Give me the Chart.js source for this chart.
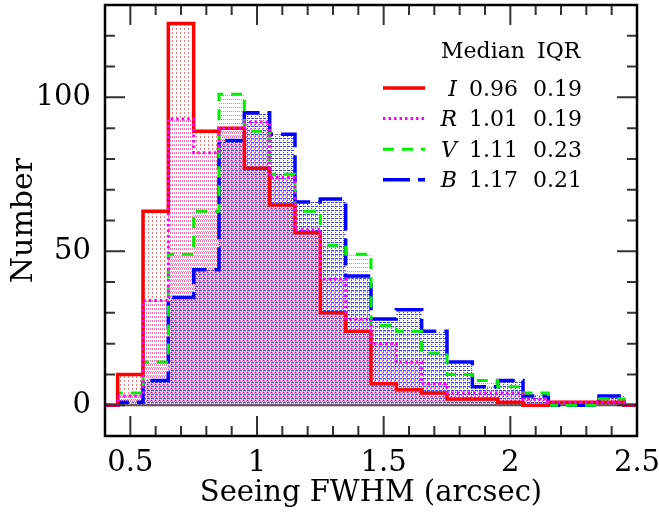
<!DOCTYPE html>
<html>
<head>
<meta charset="utf-8">
<script src="https://cdn.jsdelivr.net/npm/chart.js@4.4.1/dist/chart.umd.min.js"></script>
<style>
  html, body { margin: 0; padding: 0; background: #fff; }
  canvas { display: block; }
</style>
</head>
<body>
<canvas id="seeingChart" width="659" height="514"></canvas>
<script>
// Seeing FWHM histograms per band (bins 0.1 arcsec wide)
const binEdges = [0.45, 0.55, 0.65, 0.75, 0.85, 0.95, 1.05, 1.15, 1.25, 1.35, 1.45,
                  1.55, 1.65, 1.75, 1.85, 1.95, 2.05, 2.15, 2.25, 2.35, 2.45];
const countsI = [10, 63, 124, 89, 90, 77, 65, 56, 30, 24, 7, 5, 4, 2, 2, 1, 0, 1, 1, 1];
const countsR = [3, 34, 93, 82, 90, 92, 74, 57, 41, 28, 20, 14, 7, 4, 4, 4, 2, 1, 1, 1];
const countsV = [4, 14, 49, 63, 101, 89, 75, 63, 52, 49, 26, 24, 17, 10, 8, 6, 4, 0, 0, 2];
const countsB = [1, 8, 35, 44, 86, 95, 88, 66, 67, 42, 28, 31, 24, 14, 6, 8, 3, 0, 0, 3];

const bandNames = ["I", "R", "V", "B"];
const medians = ["0.96", "1.01", "1.11", "1.17"];
const iqrs = ["0.19", "0.19", "0.23", "0.21"];

const xTicks = [0.5, 1, 1.5, 2, 2.5];
const yTicks = [0, 50, 100];
const xRange = [0.4, 2.5];
const yRange = [-10, 130];

const FONT = "'DejaVu Serif', 'Liberation Serif', serif";
const ctx = document.getElementById("seeingChart").getContext("2d");

// step outline: value held from each left edge to the next edge
function stepPoints(counts) {
  const pts = [{ x: xRange[0], y: 0 }];
  counts.forEach((c, i) => pts.push({ x: binEdges[i], y: c }));
  pts.push({ x: binEdges[binEdges.length - 1], y: 0 });
  pts.push({ x: xRange[1], y: 0 });
  return pts;
}

// small dotted hatch like the original plot's fill
function dotPattern(color, dots) {
  const c = document.createElement("canvas");
  c.width = 4; c.height = 4;
  const g = c.getContext("2d");
  g.fillStyle = color;
  dots.forEach(([x, y]) => g.fillRect(x, y, 1, 1));
  return ctx.createPattern(c, "repeat");
}

function histDataset(label, counts, color, width, dash, pattern, order) {
  return {
    label,
    data: stepPoints(counts),
    stepped: true,
    borderColor: color,
    borderWidth: width,
    borderDash: dash,
    backgroundColor: pattern,
    fill: "origin",
    pointRadius: 0,
    order,
  };
}

const datasets = [
  histDataset("I", countsI, "#ff0000", 3.5, [], dotPattern("rgba(255,60,60,0.7)", [[0, 0], [0, 1]]), 2),
  histDataset("R", countsR, "#ff00ff", 3, [2.5, 3], dotPattern("rgba(240,60,240,0.75)", [[2, 0], [2, 1]]), 1),
  histDataset("V", countsV, "#00ee00", 3, [11, 8], dotPattern("rgba(60,220,60,0.9)", [[1, 3], [3, 3]]), 3),
  histDataset("B", countsB, "#0000ff", 3.5, [27, 8], dotPattern("rgba(40,50,255,0.9)", [[0, 2], [1, 2], [3, 2], [3, 0]]), 4),
];

// zero line, inward ticks on all four sides, frame
const framePlugin = {
  id: "frameTicks",
  beforeDatasetsDraw(chart) {
    const { ctx: c, chartArea: a, scales: { y } } = chart;
    c.save();
    c.strokeStyle = "#555";
    c.lineWidth = 2;
    const y0 = y.getPixelForValue(0);
    c.beginPath(); c.moveTo(a.left, y0); c.lineTo(a.right, y0); c.stroke();
    c.restore();
  },
  afterDatasetsDraw(chart) {
    const { ctx: c, chartArea: a, scales: { x, y } } = chart;
    c.save();
    c.strokeStyle = "#333";
    c.lineWidth = 2;
    c.beginPath();
    for (let k = 4; k <= 25; k++) {
      const px = x.getPixelForValue(k / 10);
      const len = k % 5 === 0 ? 20 : 10;
      c.moveTo(px, a.bottom); c.lineTo(px, a.bottom - len);
      c.moveTo(px, a.top); c.lineTo(px, a.top + len);
    }
    for (let k = -1; k <= 13; k++) {
      const py = y.getPixelForValue(k * 10);
      const len = k % 5 === 0 ? 20 : 10;
      c.moveTo(a.left, py); c.lineTo(a.left + len, py);
      c.moveTo(a.right, py); c.lineTo(a.right - len, py);
    }
    c.stroke();
    c.strokeStyle = "#000";
    c.lineWidth = 2.5;
    c.strokeRect(a.left, a.top, a.right - a.left, a.bottom - a.top);
    c.restore();
  },
};

const legendPlugin = {
  id: "bandLegend",
  afterDraw(chart) {
    const c = chart.ctx;
    c.save();
    c.fillStyle = "#000";
    c.textBaseline = "alphabetic";
    c.font = "22px " + FONT;
    c.textAlign = "left";
    c.fillText("Median", 441, 58);
    c.fillText("IQR", 537, 58);
    bandNames.forEach((name, i) => {
      const ds = chart.data.datasets[i];
      const ly = 88 + i * 30.6;
      c.strokeStyle = ds.borderColor;
      c.lineWidth = ds.borderWidth;
      c.setLineDash(ds.borderDash);
      c.beginPath(); c.moveTo(383, ly); c.lineTo(425, ly); c.stroke();
      c.setLineDash([]);
      c.font = "italic 22px " + FONT;
      c.textAlign = "right";
      c.fillText(name, 457, ly + 7.5);
      c.font = "22px " + FONT;
      c.textAlign = "left";
      c.fillText(medians[i], 469, ly + 7.5);
      c.fillText(iqrs[i], 533, ly + 7.5);
    });
    c.restore();
  },
};

new Chart(ctx, {
  type: "line",
  data: { datasets },
  options: {
    responsive: false,
    animation: false,
    devicePixelRatio: 1,
    layout: { padding: { top: 5, right: 22, left: 0, bottom: 0 } },
    plugins: {
      legend: { display: false },
      tooltip: { enabled: false },
      filler: { drawTime: "beforeDatasetsDraw" },
    },
    scales: {
      x: {
        type: "linear",
        min: xRange[0],
        max: xRange[1],
        afterBuildTicks: (axis) => { axis.ticks = xTicks.map((v) => ({ value: v })); },
        afterFit: (scale) => { scale.height = 78; scale.paddingLeft = 0; scale.paddingRight = 0; },
        grid: { display: false, drawTicks: false },
        border: { display: false },
        ticks: {
          autoSkip: false, maxRotation: 0, padding: 10, color: "#000",
          font: { family: FONT, size: 29 },
          callback: (v) => String(v),
        },
        title: {
          display: true, text: "Seeing FWHM (arcsec)", color: "#000",
          font: { family: FONT, size: 29 }, padding: { top: 0, bottom: 3 },
        },
      },
      y: {
        type: "linear",
        min: yRange[0],
        max: yRange[1],
        afterBuildTicks: (axis) => { axis.ticks = yTicks.map((v) => ({ value: v })); },
        afterFit: (scale) => { scale.width = 105; scale.paddingTop = 0; scale.paddingBottom = 0; },
        grid: { display: false, drawTicks: false },
        border: { display: false },
        ticks: {
          autoSkip: false, padding: 14, color: "#000",
          font: { family: FONT, size: 29 },
        },
        title: {
          display: true, text: "Number", color: "#000",
          font: { family: FONT, size: 30 }, padding: { top: 6, bottom: 0 },
        },
      },
    },
  },
  plugins: [framePlugin, legendPlugin],
});
</script>
</body>
</html>
